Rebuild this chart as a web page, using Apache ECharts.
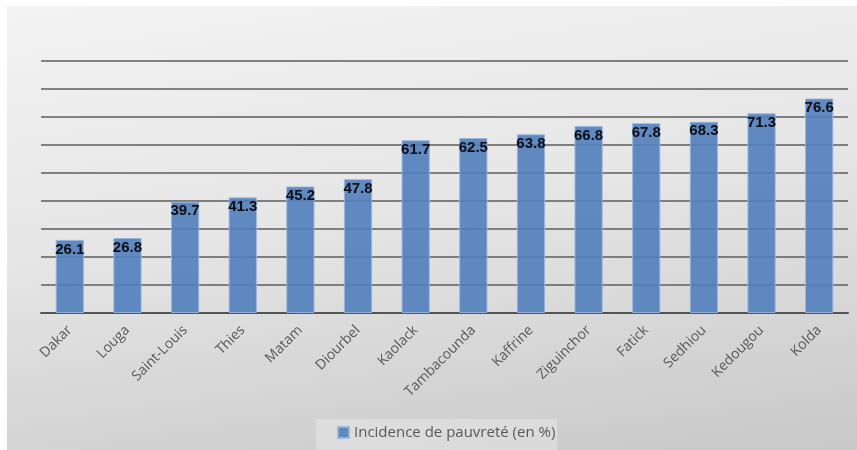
<!DOCTYPE html>
<html><head><meta charset="utf-8">
<script src="https://cdn.jsdelivr.net/npm/echarts@6/dist/echarts.min.js"></script>
<style>
html,body{margin:0;padding:0;background:#fff;}
#wrap{position:relative;width:857px;height:450px;background:#fff;}
#c{position:absolute;left:7px;top:6px;width:850px;height:444px;background:linear-gradient(172deg,#f3f3f3 0%,#e6e6e6 45%,#c8c8c8 100%);}
</style></head>
<body><div id="wrap"><div id="c"></div></div>
<script>
const categories = ['Dakar','Louga','Saint-Louis','Thies','Matam','Diourbel','Kaolack','Tambacounda','Kaffrine','Ziguinchor','Fatick','Sedhiou','Kedougou','Kolda'];
const values = [26.1,26.8,39.7,41.3,45.2,47.8,61.7,62.5,63.8,66.8,67.8,68.3,71.3,76.6];
const seriesName = 'Incidence de pauvreté (en %)';
const yMin = 0, yMax = 90, yStep = 10;

const chart = echarts.init(document.getElementById('c'), null, {renderer:'canvas'});
chart.setOption({
  backgroundColor: 'transparent',
  animation: false,
  grid: {left: 34, right: 9, top: 55, bottom: 137},
  legend: {
    data: [seriesName],
    left: 309, top: 413,
    backgroundColor: 'rgba(235,235,235,0.45)',
    padding: [6, 2, 10, 21],
    icon: 'rect', itemWidth: 11, itemHeight: 11, itemGap: 4,
    textStyle: {color: '#595959', fontSize: 15, fontFamily: 'Open Sans'}
  },
  xAxis: {
    type: 'category', data: categories,
    axisTick: {show: false},
    axisLine: {lineStyle: {color: '#555', width: 2}},
    axisLabel: {rotate: 45, margin: 15, color: '#595959', fontSize: 14, fontFamily: 'Open Sans', interval: 0}
  },
  yAxis: {
    type: 'value', min: yMin, max: yMax, interval: yStep,
    axisLabel: {show: false}, axisLine: {show: false}, axisTick: {show: false},
    splitLine: {lineStyle: {color: '#5c5c5c', width: 1.5}}
  },
  series: [{
    name: seriesName, type: 'bar', data: values, barWidth: '49%',
    itemStyle: {color: '#517dbc', opacity: 0.9, borderColor: '#9ab6dc', borderWidth: 1},
    label: {show: true, position: 'insideTop', distance: 2, color: '#000', fontWeight: 'bold', fontSize: 15, fontFamily: 'Liberation Sans'}
  }]
});
</script></body></html>
